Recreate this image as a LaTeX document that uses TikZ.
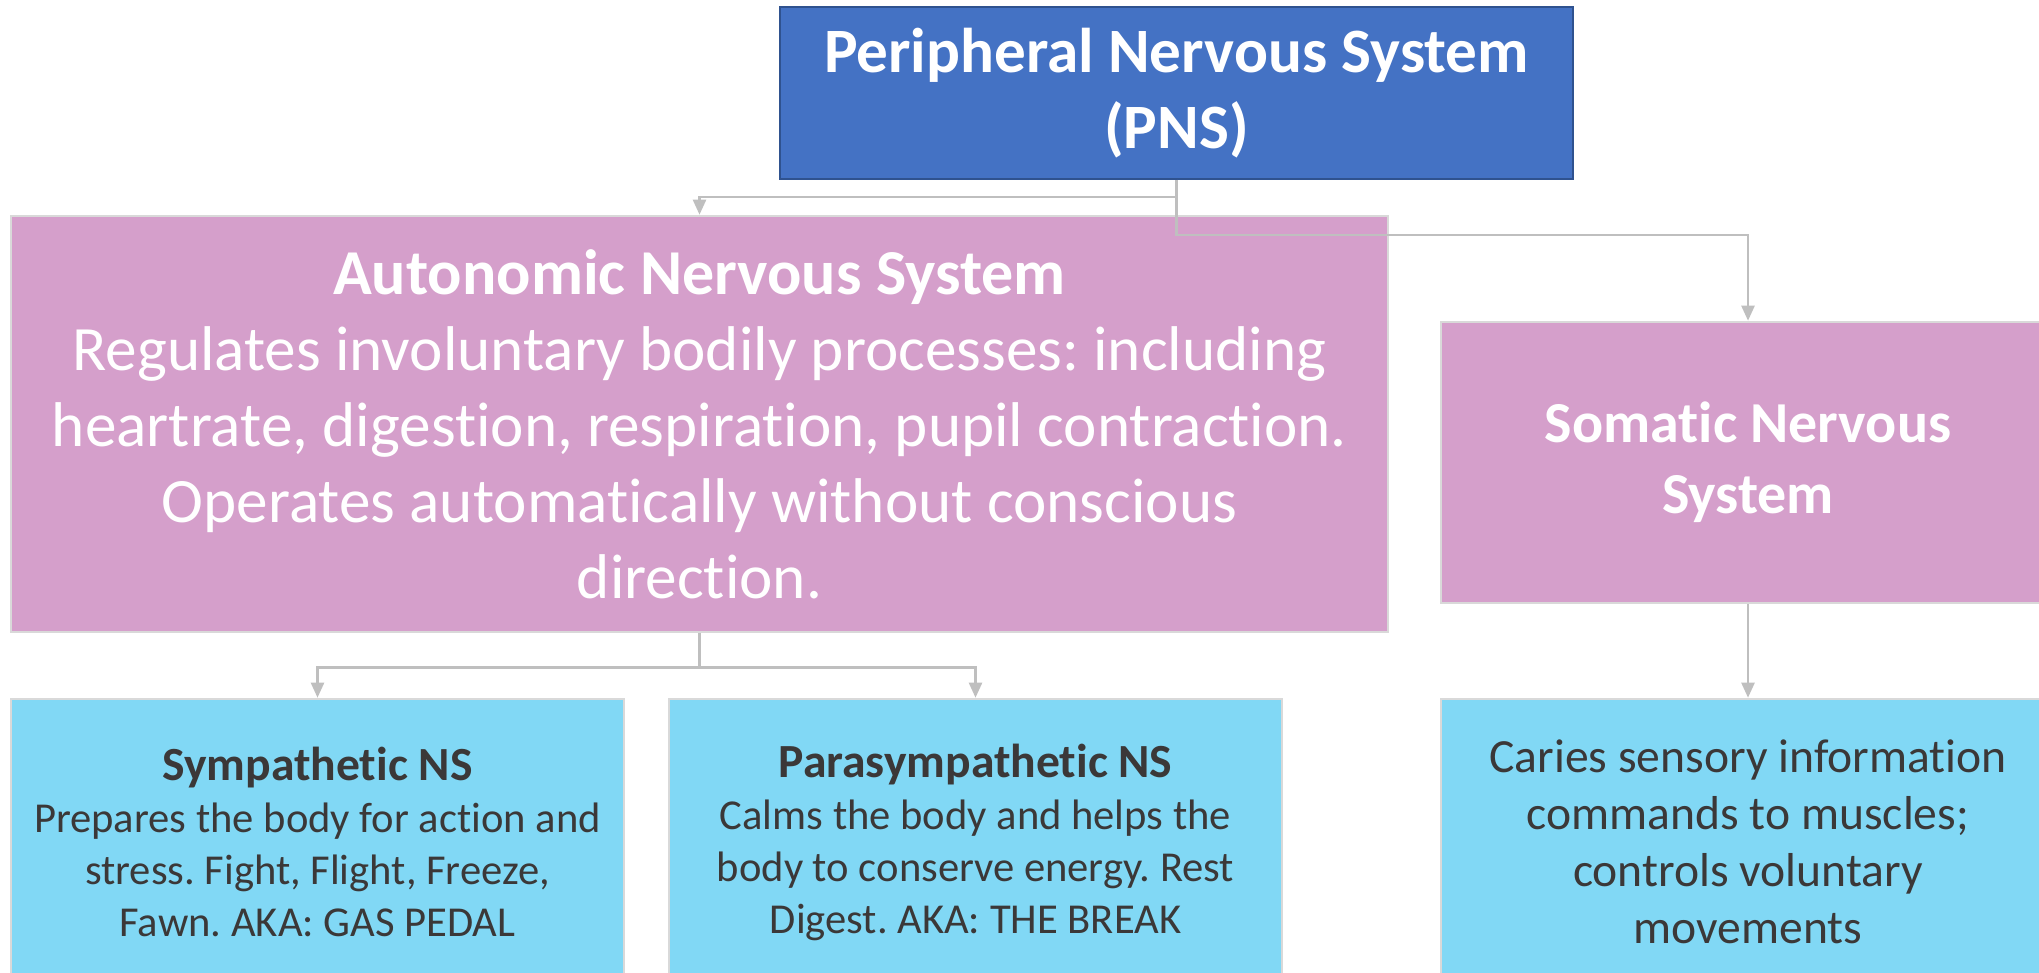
\documentclass[tikz,border=0pt]{standalone}
\usepackage{fontspec}
\setmainfont{Carlito}[Ligatures={NoCommon}]
\usepackage{tikz}
\usetikzlibrary{arrows.meta,positioning}
\definecolor{pnsblue}{HTML}{4472C4}
\definecolor{pnsedge}{HTML}{2F528F}
\definecolor{nspink}{HTML}{D59FCB}
\definecolor{nscyan}{HTML}{81D8F5}
\definecolor{edgegray}{HTML}{D9D9D9}
\definecolor{linkgray}{HTML}{BFBFBF}
\definecolor{txtdark}{HTML}{3B3838}
\frenchspacing

\begin{document}
\begin{tikzpicture}[x=0.5pt, y=-0.5pt,
  box/.style={draw=edgegray, line width=1.3pt, align=center, inner sep=0pt},
  rootbox/.style={box, draw=pnsedge, line width=0.8pt, fill=pnsblue, text=white, font=\fontsize{31.6}{38}\selectfont\bfseries},
  pinkbox/.style={box, fill=nspink, text=white},
  cyanbox/.style={box, fill=nscyan, text=txtdark},
  link/.style={draw=linkgray, line width=1.2pt, -{Triangle[length=7.5pt,width=6.5pt]}}]
\useasboundingbox (0,0) rectangle (2039,973);
\clip (0,0) rectangle (2039,973);
% top level
\node[rootbox, minimum width=396.5pt, minimum height=86pt] (pns) at (1176.5,93) {Peripheral Nervous System\\(PNS)};
% second level
\node[pinkbox, minimum width=688.5pt, minimum height=208pt, font=\fontsize{31.6}{38}\selectfont] (ans) at (699.5,424)
  {{\fontsize{32}{38}\selectfont\bfseries Autonomic Nervous System}\\Regulates involuntary bodily processes: including\\heartrate, digestion, respiration, pupil contraction.\\Operates automatically without conscious\\direction.};
\node[pinkbox, minimum width=307pt, minimum height=140.5pt, font=\fontsize{29}{35.5}\selectfont\bfseries] (som) at (1748,462.5)
  {Somatic Nervous\\System};
% third level
\node[cyanbox, minimum width=306.5pt, minimum height=143pt, font=\fontsize{21.3}{26}\selectfont] (sym) at (317.5,842)
  {{\fontsize{23.8}{26}\selectfont\bfseries Sympathetic NS}\\Prepares the body for action and\\stress. Fight, Flight, Freeze,\\Fawn. AKA: GAS PEDAL};
\node[cyanbox, minimum width=306.5pt, minimum height=143pt, font=\fontsize{21.3}{26}\selectfont] (para) at (975.5,842)
  {{\fontsize{23.8}{26}\selectfont\bfseries Parasympathetic NS}\\Calms the body and helps the\\body to conserve energy. Rest\\Digest. AKA: THE BREAK};
\node[cyanbox, minimum width=307pt, minimum height=143pt, font=\fontsize{23.8}{28.5}\selectfont] (somout) at (1748,842)
  {Caries sensory information\\commands to muscles;\\controls voluntary\\movements};
% connectors
\draw[link] (pns.south) -- ++(0,17) -| (ans.north);
\draw[link] (pns.south) -- ++(0,55) -| (som.north);
\draw[link] (ans.south) -- ++(0,34) -| (sym.north);
\draw[link] (ans.south) -- ++(0,34) -| (para.north);
\draw[link] (som) -- (somout);
\end{tikzpicture}
\end{document}
